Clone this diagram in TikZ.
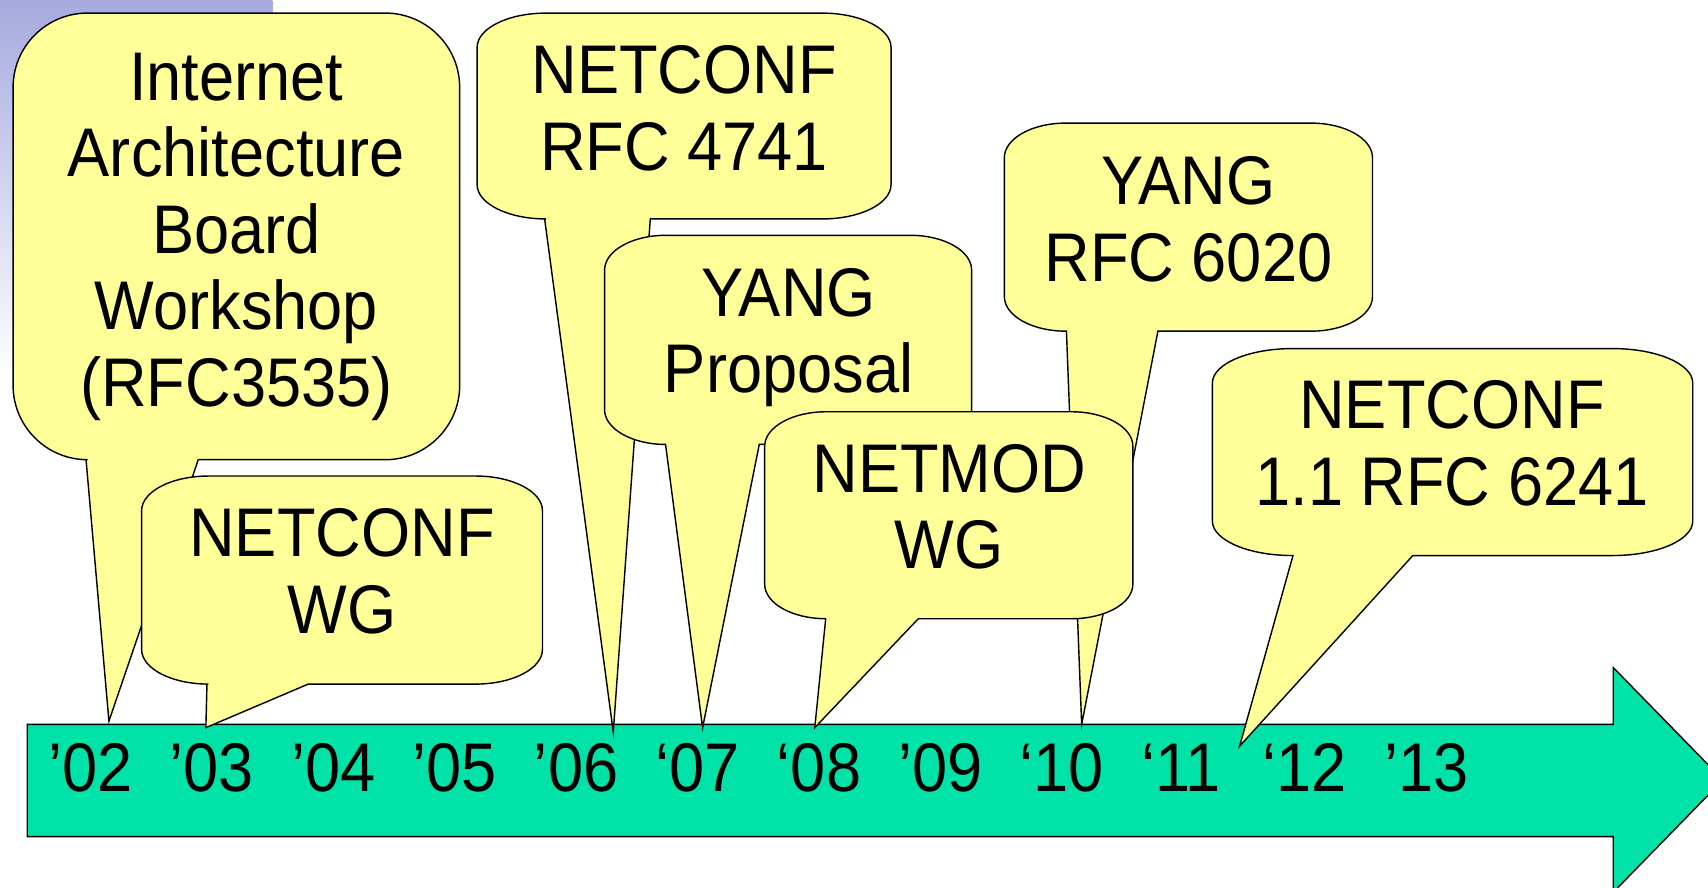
\documentclass[tikz,border=0pt]{standalone}
\usepackage{fontspec}
\setmainfont{Liberation Sans}
\definecolor{calloutfill}{RGB}{255,255,153}
\definecolor{arrowfill}{RGB}{0,226,168}
\definecolor{bgblue}{RGB}{166,170,222}
\tikzset{
  callout/.style={fill=calloutfill, draw=black, line width=1.3pt, line join=miter},
  timearrow/.style={fill=arrowfill, draw=black, line width=1.3pt},
  ctext/.style={anchor=base, inner sep=0pt, yscale=1.09, transform shape, font=\fontsize{58}{64.4}\selectfont},
  yearlabel/.style={anchor=base west, inner sep=0pt, yscale=1.09, transform shape, font=\fontsize{58}{64.4}\selectfont},
}
% L T R B bx1 tipx tipy bx2
\newcommand\calloutshape[8]{%
  \path[callout] (#5,-#4) -- (#6,-#7) -- (#8,-#4) -- ({#3-(#3-#1)/6},-#4)
    arc[start angle=270,end angle=360,x radius={(#3-#1)/6},y radius={(#4-#2)/6}]
    -- (#3,{-#2-(#4-#2)/6})
    arc[start angle=0,end angle=90,x radius={(#3-#1)/6},y radius={(#4-#2)/6}]
    -- ({#1+(#3-#1)/6},-#2)
    arc[start angle=90,end angle=180,x radius={(#3-#1)/6},y radius={(#4-#2)/6}]
    -- (#1,{-#4+(#4-#2)/6})
    arc[start angle=180,end angle=270,x radius={(#3-#1)/6},y radius={(#4-#2)/6}]
    -- cycle;}
\begin{document}
\begin{tikzpicture}[x=1pt,y=1pt]
\fill[white] (0,0) rectangle (1568,-815);
\useasboundingbox (0,0) rectangle (1568,-815);
\clip (0,0) rectangle (1568,-815);
\shade[top color=bgblue, bottom color=white] (0,0) rectangle (250,-345);
% timeline arrow
\path[timearrow] (25,-665) -- (1481,-665) -- (1481,-612.8) -- (1581.7,-716)
  -- (1481,-819.2) -- (1481,-768) -- (25,-768) -- cycle;
\node[yearlabel] (y02) at (44,-727) {’02};
\node[yearlabel] (y03) at (155.5,-727) {’03};
\node[yearlabel] (y04) at (267,-727) {’04};
\node[yearlabel] (y05) at (378.5,-727) {’05};
\node[yearlabel] (y06) at (490,-727) {’06};
\node[yearlabel] (y07) at (601.5,-727) {‘07};
\node[yearlabel] (y08) at (713,-727) {‘08};
\node[yearlabel] (y09) at (824.5,-727) {’09};
\node[yearlabel] (y10) at (936,-727) {‘10};
\node[yearlabel] (y11) at (1047.5,-727) {‘11};
\node[yearlabel] (y12) at (1159,-727) {‘12};
\node[yearlabel] (y13) at (1270.5,-727) {’13};
% callouts
\calloutshape{12}{12}{422}{422}{79}{100}{662}{182}
\node[ctext] (iab) at (217,-92) {\begin{tabular}[t]{@{}c@{}}Internet\\Architecture\\Board\\Workshop\\(RFC3535)\end{tabular}};
\calloutshape{130}{437}{498}{628}{190}{189}{668}{283}
\node[ctext] (ncwg) at (314,-511) {\begin{tabular}[t]{@{}c@{}}NETCONF\\WG\end{tabular}};
\calloutshape{438}{12}{818}{201}{500}{563}{672}{597}
\node[ctext] (rfc4741) at (628,-86) {\begin{tabular}[t]{@{}c@{}}NETCONF\\RFC 4741\end{tabular}};
\calloutshape{555}{216}{892}{408}{611}{645}{668}{697}
\node[ctext] (yangprop) at (724,-290.5) {\begin{tabular}[t]{@{}c@{}}YANG\\Proposal\end{tabular}};
\calloutshape{922}{113}{1260}{304}{979}{993}{665}{1063}
\node[ctext] (rfc6020) at (1091,-188) {\begin{tabular}[t]{@{}c@{}}YANG\\RFC 6020\end{tabular}};
\calloutshape{702}{378}{1040}{568}{758}{748}{668}{843}
\node[ctext] (netmod) at (871.5,-452) {\begin{tabular}[t]{@{}c@{}}NETMOD\\WG\end{tabular}};
\calloutshape{1113}{320}{1554}{510}{1187}{1138}{685}{1297}
\node[ctext] (rfc6241) at (1333,-393.5) {\begin{tabular}[t]{@{}c@{}}NETCONF\\1.1 RFC 6241\end{tabular}};
\end{tikzpicture}
\end{document}
